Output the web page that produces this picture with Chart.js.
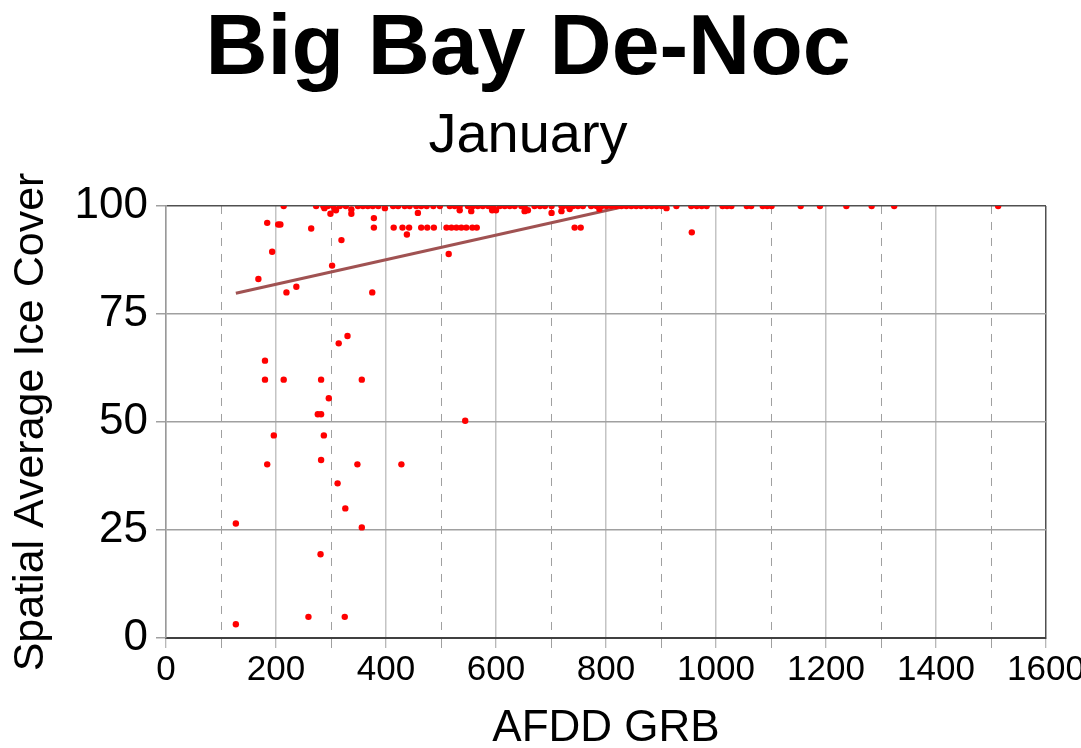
<!DOCTYPE html>
<html>
<head>
<meta charset="utf-8">
<title>Big Bay De-Noc</title>
<script src="https://cdn.jsdelivr.net/npm/chart.js@4"></script>
<style>
  html, body { margin: 0; padding: 0; background: #fff; }
</style>
</head>
<body>
<canvas id="iceChart" width="1081" height="748"></canvas>
<script>
// AFDD GRB (x) and spatial average ice cover (y)
const afdd = [
  127, 127, 168, 180, 180, 184, 184, 193, 196, 204, 208, 214, 219, 237, 259, 264,
  276, 282, 281, 282, 282, 287, 296, 302, 312, 314, 319, 325, 326, 330, 348, 356,
  356, 375, 378, 378, 428, 438, 514, 544, 956,
  // row near 95
  414, 430, 442, 464, 475, 487, 510, 519, 528, 537, 546, 557, 565, 743, 754,
  // just under 100
  288, 299, 307, 309, 337, 337, 398, 458, 534, 555, 593, 600, 652, 658, 701, 719, 734, 788, 910,
  // at 100
  214, 273, 286, 294, 304, 316, 327, 349, 358, 367, 376, 386, 413, 422, 434, 443,
  455, 464, 474, 486, 498, 516, 525, 534, 549, 558, 567, 576, 586, 595, 607, 616,
  625, 634, 646, 652, 670, 680, 689, 701, 719, 722, 731, 740, 749, 758, 773, 783,
  792, 801, 810, 819, 828, 837, 846, 855, 864, 874, 883, 892, 901, 928, 955, 965,
  974, 983, 1012, 1020, 1028, 1056, 1064, 1085, 1093, 1101, 1154, 1189, 1237, 1283, 1324, 1513
];
const iceCover = [
  26.5, 3.2, 83.1, 64.2, 59.8, 40.2, 96.1, 89.4, 46.9, 95.7, 95.7, 59.8, 80, 81.3, 4.9, 94.8,
  51.8, 51.8, 19.4, 59.8, 41.2, 46.9, 55.5, 86.2, 35.8, 68.2, 92.1, 4.9, 30, 69.9, 40.2, 59.8,
  25.6, 80, 97.2, 95, 40.2, 93.4, 88.9, 50.3, 93.9,
  95, 95, 95, 95, 95, 95, 95, 95, 95, 95, 95, 95, 95, 95, 95,
  99.5, 98.2, 99.2, 99, 99.2, 98.2, 99.5, 98.4, 99, 98.8, 99, 99, 98.8, 99, 98.4, 98.8, 99.3, 99.3, 99.5,
  100, 100, 100, 100, 100, 100, 100, 100, 100, 100, 100, 100, 100, 100, 100, 100,
  100, 100, 100, 100, 100, 100, 100, 100, 100, 100, 100, 100, 100, 100, 100, 100,
  100, 100, 100, 100, 100, 100, 100, 100, 100, 100, 100, 100, 100, 100, 100, 100,
  100, 100, 100, 100, 100, 100, 100, 100, 100, 100, 100, 100, 100, 100, 100, 100,
  100, 100, 100, 100, 100, 100, 100, 100, 100, 100, 100, 100, 100, 100, 100, 100
];
// fitted trend line, start and end
const trendX = [127, 837];
const trendY = [79.8, 100];

const yTicks = [0, 25, 50, 75, 100];

const fam = "'Liberation Sans', Arial, sans-serif";

const points = afdd.map((v, i) => ({ x: v, y: iceCover[i] }));
const trend = trendX.map((v, i) => ({ x: v, y: trendY[i] }));

new Chart(document.getElementById('iceChart').getContext('2d'), {
  type: 'scatter',
  data: {
    datasets: [{
      label: 'Ice cover',
      data: points,
      backgroundColor: '#ff0000',
      borderWidth: 0,
      pointRadius: 3.2,
      pointHoverRadius: 3.2
    }, {
      label: 'Trend',
      data: trend,
      showLine: true,
      borderColor: '#a05252',
      borderWidth: 3,
      pointRadius: 0
    }]
  },
  options: {
    responsive: false,
    animation: false,
    layout: { padding: { left: 10, right: 35, top: 0, bottom: 0 } },
    plugins: {
      legend: { display: false },
      tooltip: { enabled: false },
      title: {
        display: true,
        text: 'Big Bay De-Noc',
        color: '#000',
        font: { family: fam, size: 86, weight: 'bold', lineHeight: 1.174 },
        padding: { top: 0, bottom: 0 }
      },
      subtitle: {
        display: true,
        text: 'January',
        color: '#000',
        font: { family: fam, size: 56, lineHeight: 1.286 },
        padding: { top: 0, bottom: 33 }
      }
    },
    scales: {
      x: {
        type: 'linear',
        min: 0,
        max: 1600,
        afterFit: (s) => { s.height = 110; s.paddingLeft = 0; s.paddingRight = 0; },
        ticks: {
          stepSize: 100,
          autoSkip: false,
          maxRotation: 0,
          color: '#000',
          padding: 1,
          font: { family: fam, size: 35 },
          callback: (v) => (v % 200 === 0 ? v : '')
        },
        grid: {
          color: (c) => (c.tick && c.tick.value === 1600 ? '#505050' : (c.tick && c.tick.value % 200 === 0 ? '#c4c4c4' : '#a0a0a0')),
          lineWidth: (c) => (c.tick && c.tick.value % 200 === 0 ? 1.5 : 1),
          tickLength: 10,
          tickColor: '#a0a0a0',
          tickWidth: 1
        },
        border: {
          color: '#404040',
          width: 2,
          dash: (c) => (c.tick && c.tick.value % 200 !== 0 ? [8, 8] : [])
        },
        title: {
          display: true,
          text: 'AFDD GRB',
          color: '#000',
          font: { family: fam, size: 44, lineHeight: 0.85 },
          padding: { top: 0, bottom: 0 }
        }
      },
      y: {
        min: 0,
        max: 100,
        afterFit: (s) => { s.width = 156; s.paddingTop = 0; s.paddingBottom = 0; },
        afterBuildTicks: (s) => { s.ticks = yTicks.map((v) => ({ value: v })); },
        ticks: {
          color: '#000',
          padding: 8,
          font: { family: fam, size: 44 }
        },
        grid: {
          color: (c) => (c.tick && c.tick.value === 100 ? '#505050' : '#a0a0a0'),
          lineWidth: 1.5,
          tickLength: 10,
          tickColor: '#a0a0a0'
        },
        border: { color: '#999999', width: 1.5 },
        title: {
          display: true,
          text: 'Spatial Average Ice Cover',
          color: '#000',
          font: { family: fam, size: 43, lineHeight: 1 },
          padding: { top: 0, bottom: 0 }
        }
      }
    }
  }
});
</script>
</body>
</html>
